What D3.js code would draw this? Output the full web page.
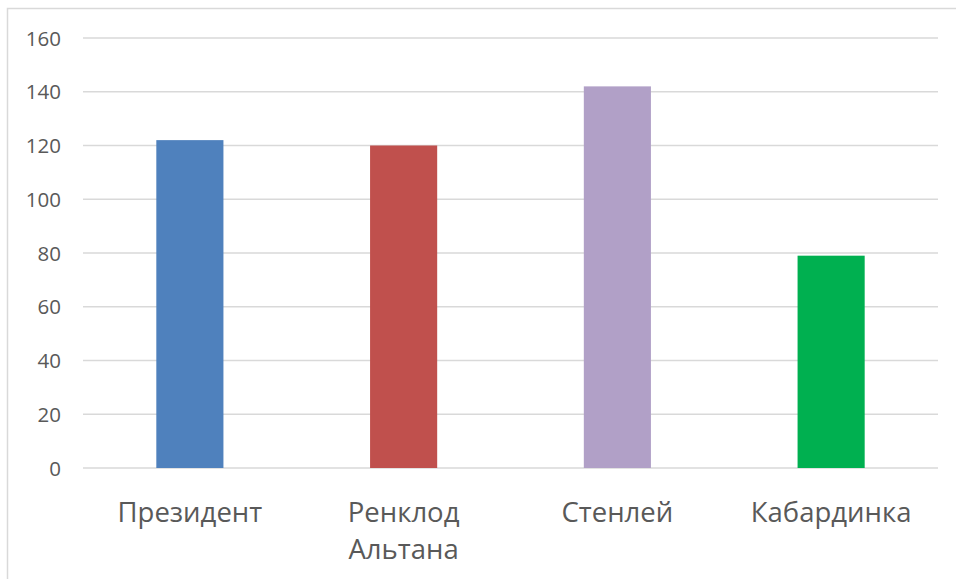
<!DOCTYPE html>
<html>
<head>
<meta charset="utf-8">
<script src="https://cdn.jsdelivr.net/npm/d3@7"></script>
<style>
  html, body { margin: 0; padding: 0; background: #fff; }
  svg { display: block; }
  text { font-family: "Open Sans", "Liberation Sans", sans-serif; fill: #595959; }
</style>
</head>
<body>
<svg id="chart" width="956" height="579"></svg>
<script>
// Plum varieties and their values
const categories = ["Президент", "Ренклод Альтана", "Стенлей", "Кабардинка"];
const values = [122, 120, 142, 79];
const colors = ["#4F81BD", "#C0504D", "#B1A0C7", "#00B050"];
const yTicks = [0, 20, 40, 60, 80, 100, 120, 140, 160];

const svg = d3.select("#chart");

// Chart frame (only top and left edges fall inside the view)
svg.append("rect")
  .attr("x", 7.5).attr("y", 8.5)
  .attr("width", 1000).attr("height", 1000)
  .attr("fill", "none")
  .attr("stroke", "#D9D9D9")
  .attr("stroke-width", 1.5);

const plot = { left: 83, right: 938, top: 38, bottom: 468 };

const x = d3.scaleBand()
  .domain(categories)
  .range([plot.left, plot.right])
  .paddingInner(0.686)
  .paddingOuter(0.343);

const y = d3.scaleLinear()
  .domain([0, 160])
  .range([plot.bottom, plot.top]);

// Gridlines
svg.append("g")
  .selectAll("line")
  .data(yTicks)
  .join("line")
  .attr("x1", plot.left).attr("x2", plot.right)
  .attr("y1", d => y(d)).attr("y2", d => y(d))
  .attr("stroke", "#D9D9D9")
  .attr("stroke-width", 1.5);

// Y axis labels
const yAxis = d3.axisLeft(y).tickValues(yTicks).tickSize(0).tickPadding(0);
const yg = svg.append("g")
  .attr("transform", `translate(${61},0)`)
  .call(yAxis);
yg.select(".domain").remove();
yg.selectAll("text")
  .attr("font-size", 20.5)
  .attr("dy", "0.35em")
  .style("font-family", "'Open Sans', sans-serif")
  .attr("fill", "#595959");

// Bars
svg.append("g")
  .selectAll("rect")
  .data(categories)
  .join("rect")
  .attr("x", d => x(d))
  .attr("width", x.bandwidth())
  .attr("y", (d, i) => y(values[i]))
  .attr("height", (d, i) => y(0) - y(values[i]))
  .attr("fill", (d, i) => colors[i]);

// Category labels, wrapped at spaces
const xg = svg.append("g");
categories.forEach(c => {
  const lines = c.split(" ");
  const t = xg.append("text")
    .attr("text-anchor", "middle")
    .attr("font-size", 27.5)
    .attr("x", x(c) + x.bandwidth() / 2)
    .attr("y", 522);
  lines.forEach((ln, i) => {
    t.append("tspan")
      .attr("x", x(c) + x.bandwidth() / 2)
      .attr("dy", i === 0 ? 0 : 37)
      .text(ln);
  });
});
</script>
</body>
</html>
